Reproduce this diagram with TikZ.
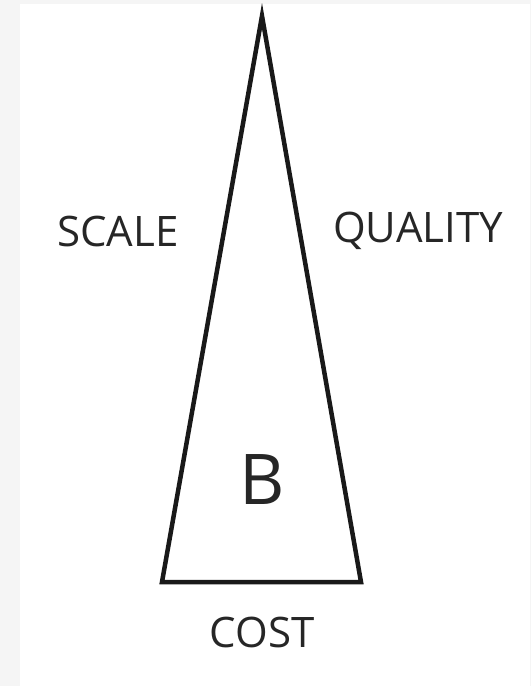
\documentclass[tikz,border=0pt]{standalone}
\usepackage{fontspec}
\setmainfont{Open Sans}
\usetikzlibrary{positioning}

\begin{document}
\begin{tikzpicture}[
  x=1pt, y=-1pt,
  label/.style={font=\fontsize{42}{46}\selectfont, text=black!85, inner sep=0pt},
  bigletter/.style={font=\fontsize{70}{80}\selectfont, text=black!85, inner sep=0pt},
  edge/.style={line width=4.5pt, black!90, line join=miter}
]
% page with grey frame
\fill[black!4] (0,0) rectangle (531,686);
\fill[white] (20,4) rectangle (530,686);
\useasboundingbox (0,0) rectangle (531,686);

\coordinate (apex) at (262,16);
\coordinate (bl) at (162,582);
\coordinate (br) at (361,582);
\draw[edge] (apex) -- (br) -- (bl) -- cycle;

\node[label] (scale) at (118,231) {SCALE};
\node[label] (quality) at (418,231) {QUALITY};
\node[bigletter] (b) at (262,480) {B};
\node[label] (cost) at (262,632) {COST};
\end{tikzpicture}
\end{document}
